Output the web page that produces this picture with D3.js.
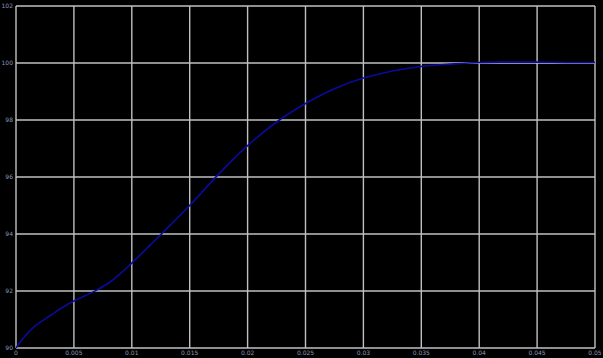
<!DOCTYPE html>
<html><head><meta charset="utf-8">
<script src="https://cdn.jsdelivr.net/npm/d3@7"></script>
<style>html,body{margin:0;padding:0;background:#000;}svg{display:block;}</style>
</head><body>
<svg id="c" width="603" height="358"></svg>
<script>
const time = [0, 0.0005, 0.001, 0.0015, 0.002, 0.003, 0.004, 0.005, 0.006, 0.007, 0.008, 0.009, 0.01, 0.0125, 0.015, 0.0175, 0.02, 0.0225, 0.025, 0.0275, 0.03, 0.0325, 0.035, 0.0375, 0.04, 0.0425, 0.045, 0.0475, 0.05];
const response = [90, 90.28, 90.52, 90.72, 90.88, 91.15, 91.42, 91.65, 91.84, 92.04, 92.28, 92.6, 92.98, 93.98, 95.0, 96.1, 97.1, 97.93, 98.58, 99.1, 99.47, 99.72, 99.88, 99.96, 100.02, 100.03, 100.03, 100.02, 100.02];
const xTicks = [0, 0.005, 0.01, 0.015, 0.02, 0.025, 0.03, 0.035, 0.04, 0.045, 0.05];
const xTickLabels = ["0", "0.005", "0.01", "0.015", "0.02", "0.025", "0.03", "0.035", "0.04", "0.045", "0.05"];
const yTicks = [90, 92, 94, 96, 98, 100, 102];
const yTickLabels = ["90", "92", "94", "96", "98", "100", "102"];

const svg = d3.select("#c");
svg.append("rect").attr("width", 603).attr("height", 358).attr("fill", "#000");
const x = d3.scaleLinear().domain([0, 0.05]).range([16, 595]);
const y = d3.scaleLinear().domain([90, 102]).range([348, 6]);

const grid = svg.append("g");
grid.selectAll("line.v").data(xTicks).join("line")
  .attr("x1", d => x(d)).attr("x2", d => x(d)).attr("y1", y(102)).attr("y2", y(90))
  .attr("stroke", "#c0c0c0").attr("stroke-width", 1.4);
grid.selectAll("line.h").data(yTicks).join("line")
  .attr("x1", x(0)).attr("x2", x(0.05)).attr("y1", d => y(d)).attr("y2", d => y(d))
  .attr("stroke", "#c0c0c0").attr("stroke-width", 1.4);

const lbl = svg.append("g").attr("font-family", "DejaVu Sans, sans-serif").attr("font-size", 6).attr("fill", "#8a9ab8");
lbl.selectAll("text.x").data(xTicks).join("text")
  .attr("x", d => x(d)).attr("y", 355).attr("text-anchor", "middle")
  .text((d, i) => xTickLabels[i]);
lbl.selectAll("text.y").data(yTicks).join("text")
  .attr("x", 13).attr("y", d => y(d) + 2).attr("text-anchor", "end")
  .text((d, i) => yTickLabels[i]);

const line = d3.line().x((d, i) => x(time[i])).y(d => y(d)).curve(d3.curveCatmullRom.alpha(0.5));
svg.append("path").datum(response).attr("d", line)
  .attr("fill", "none").attr("stroke", "#0a0aa0").attr("stroke-width", 1.6);
</script>
</body></html>
